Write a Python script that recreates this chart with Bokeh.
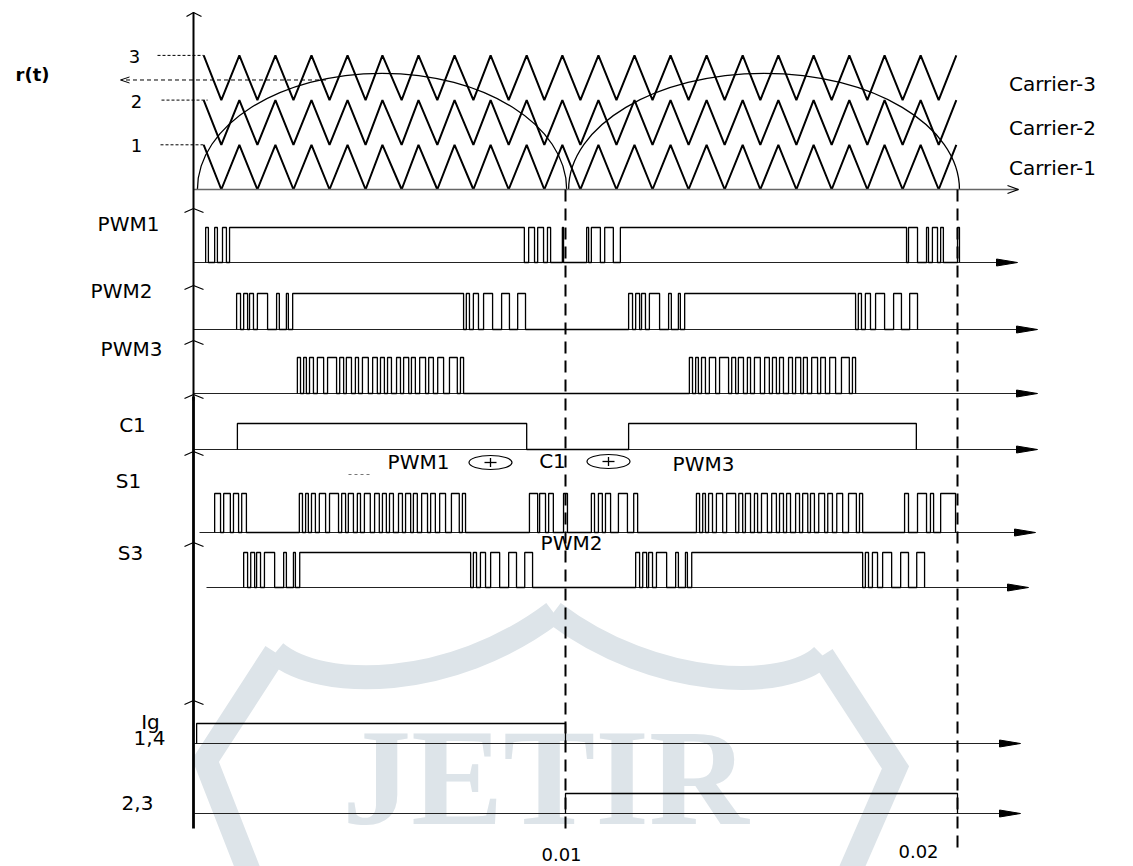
import numpy as np
from bokeh.plotting import figure
from bokeh.models import Range1d
from bokeh.embed import file_html
from bokeh.resources import INLINE
from bokeh.core.properties import value

# ---------------- signal data (time in ms) ----------------
carrier_labels = ["Carrier-1", "Carrier-2", "Carrier-3"]
carrier_levels = [1, 2, 3]
carrier_peaks_ms = [0.77, 1.68, 2.60, 3.52, 4.44, 5.33, 6.25, 7.17, 8.09, 9.01, 9.92,
                    10.84, 11.76, 12.68, 13.60, 14.52, 15.43, 16.33, 17.24, 18.14, 19.06, 19.97]
carrier_valleys_ms = [1.22, 2.14, 3.06, 3.98, 4.90, 5.82, 6.73, 7.65, 8.55, 9.46,
                      10.38, 11.30, 12.22, 13.14, 14.06, 14.97, 15.89, 16.79, 17.70, 18.60, 19.52]

# rectified reference r(t): two half waves
ref_start_ms = [0.61, 10.08]
ref_end_ms = [10.03, 20.05]
ref_peak_level = 2.6
readout_level = 2.45
readout_from_ms = 3.89

# switching instants (alternating rise / fall, starting from low)
pwm1_edges = [0.82, 0.89, 1.05, 1.12, 1.25, 1.35, 1.43,
              8.95, 9.06, 9.21, 9.29, 9.44, 9.54, 9.62, 9.92, 9.95,
              10.54, 10.59, 10.66, 10.89, 11.00, 11.22, 11.40,
              18.70, 18.75, 18.98, 19.21, 19.26, 19.36, 19.49, 19.57, 19.64, 20.00, 20.05]
pwm2_edges = [1.61, 1.71, 1.79, 1.89, 1.94, 2.04, 2.14, 2.40, 2.63, 2.70, 2.88, 2.93, 3.04,
              7.40, 7.47, 7.55, 7.65, 7.78, 7.91, 8.14, 8.37, 8.57, 8.78, 8.98,
              11.61, 11.71, 11.79, 11.89, 11.94, 12.04, 12.14, 12.40, 12.63, 12.70, 12.88, 12.93, 13.04,
              17.40, 17.47, 17.55, 17.65, 17.78, 17.91, 18.14, 18.37, 18.57, 18.78, 18.98]
pwm3_edges = [3.16, 3.24, 3.32, 3.39, 3.47, 3.57, 3.67, 3.83, 3.93, 4.16, 4.24, 4.34, 4.41, 4.54,
              4.64, 4.72, 4.82, 4.97, 5.08, 5.20, 5.28, 5.38, 5.46, 5.56, 5.69, 5.79, 5.87, 6.00,
              6.07, 6.17, 6.28, 6.43, 6.51, 6.63, 6.74, 6.89, 7.04, 7.24, 7.32, 7.40,
              13.16, 13.24, 13.32, 13.39, 13.47, 13.57, 13.67, 13.83, 13.93, 14.16, 14.24, 14.34, 14.41, 14.54,
              14.64, 14.72, 14.82, 14.97, 15.08, 15.20, 15.28, 15.38, 15.46, 15.56, 15.69, 15.79, 15.87, 16.00,
              16.07, 16.17, 16.28, 16.43, 16.51, 16.63, 16.74, 16.89, 17.04, 17.24, 17.32, 17.40]
c1_edges = [1.63, 9.01, 11.61, 18.95]
s1_edges = [1.05, 1.20, 1.28, 1.45, 1.53, 1.66, 1.74, 1.86,
            3.21, 3.29, 3.37, 3.44, 3.52, 3.62, 3.72, 3.88, 3.98, 4.21, 4.29, 4.39, 4.46, 4.59,
            4.69, 4.77, 4.87, 5.02, 5.13, 5.25, 5.33, 5.43, 5.51, 5.61, 5.74, 5.84, 5.92, 6.05,
            6.12, 6.22, 6.33, 6.48, 6.56, 6.68, 6.79, 6.94, 7.09, 7.29, 7.37, 7.45,
            9.08, 9.29, 9.34, 9.49, 9.57, 9.69, 9.95, 10.05,
            10.66, 10.74, 10.84, 10.94, 11.02, 11.15, 11.35, 11.58, 11.74, 11.84,
            13.34, 13.42, 13.50, 13.57, 13.65, 13.75, 13.85, 14.01, 14.11, 14.34, 14.42, 14.52, 14.59, 14.72,
            14.82, 14.90, 15.00, 15.15, 15.26, 15.38, 15.46, 15.56, 15.64, 15.74, 15.87, 15.97, 16.05, 16.18,
            16.25, 16.35, 16.46, 16.61, 16.69, 16.81, 16.92, 17.07, 17.22, 17.42, 17.50, 17.58,
            18.65, 18.75, 18.98, 19.21, 19.31, 19.39, 19.57, 19.95]
s3_edges = [1.79, 1.89, 1.97, 2.07, 2.12, 2.22, 2.32, 2.58, 2.81, 2.88, 3.06, 3.11, 3.22,
            7.58, 7.65, 7.73, 7.83, 7.96, 8.09, 8.32, 8.55, 8.75, 8.96, 9.16,
            11.79, 11.89, 11.97, 12.07, 12.12, 12.22, 12.32, 12.58, 12.81, 12.88, 13.06, 13.11, 13.22,
            17.58, 17.65, 17.73, 17.83, 17.96, 18.09, 18.32, 18.55, 18.75, 18.96, 19.16]
ig14_edges = [0.59, 10.0]
ig23_edges = [10.0, 20.0]

time_marks_ms = [10.0, 20.0]
time_mark_labels = ["0.01", "0.02"]

# ---------------- page geometry ----------------
W, H = 1133, 866
PX_PER_MS = 39.2
ORIGIN_PX = 173.0


def t_of(xpx):
    return (xpx - ORIGIN_PX) / PX_PER_MS


def dt(npx):
    return npx / PX_PER_MS


AXIS_X = t_of(193)
R_BASE, LEVEL_PX = 189.0, 44.7


def ry(level):
    return R_BASE - LEVEL_PX * level


FONT = value("DejaVu Sans")
INK = "black"
WM = "#dde4e9"

p = figure(width=W, height=H, x_range=Range1d(t_of(0), t_of(W)), y_range=Range1d(H, 0),
           x_axis_type=None, y_axis_type=None, toolbar_location=None,
           output_backend="svg", min_border=0, outline_line_color=None)
p.grid.visible = False
p.background_fill_color = "white"
p.border_fill_color = "white"

# ---------------- faint emblem in the background ----------------
p.multi_line(xs=[[t_of(275), t_of(205), t_of(248)], [t_of(822), t_of(895), t_of(850)]],
             ys=[[652, 760, 870], [655, 767, 870]], line_color=WM, line_width=24, line_join="miter")
p.bezier(x0=[t_of(275), t_of(822)], y0=[652, 655], x1=[t_of(553), t_of(553)], y1=[612, 612],
         cx0=[t_of(320), t_of(786)], cy0=[690, 690], cx1=[t_of(450), t_of(656)], cy1=[690, 690],
         line_color=WM, line_width=24)
p.text(x=[t_of(545)], y=[777], text=["JETIR"], text_font=value("Liberation Serif"),
       text_font_style="bold", text_font_size="138px", text_color=WM,
       text_align="center", text_baseline="middle")

# ---------------- r(t) panel ----------------
for lvl in carrier_levels:
    pts = sorted([(t, lvl) for t in carrier_peaks_ms] + [(t, lvl - 1) for t in carrier_valleys_ms])
    p.line([a for a, _ in pts], [ry(b) for _, b in pts], line_color=INK, line_width=2)

# reference half-waves (elliptic arcs drawn as cubic Beziers)
K = 0.5523
x0s, y0s, x1s, y1s, c0x, c0y, c1x, c1y = [], [], [], [], [], [], [], []
for a, b in zip(ref_start_ms, ref_end_ms):
    mid, half = (a + b) / 2, (b - a) / 2
    top, base = ry(ref_peak_level), ry(0)
    x0s += [a, mid]; y0s += [base, top]
    x1s += [mid, b]; y1s += [top, base]
    c0x += [a, mid + K * half]; c0y += [base - K * (base - top), top]
    c1x += [mid - K * half, b]; c1y += [top, base - K * (base - top)]
p.bezier(x0=x0s, y0=y0s, x1=x1s, y1=y1s, cx0=c0x, cy0=c0y, cx1=c1x, cy1=c1y,
         line_color=INK, line_width=1.3)

# r(t) axis line with open arrow
p.line([AXIS_X, t_of(1018)], [ry(0), ry(0)], line_color="#666666", line_width=1.5)
p.line([t_of(1007), t_of(1018), t_of(1007)], [ry(0) - 4, ry(0), ry(0) + 4], line_color=INK, line_width=1.2)

# level guides 1, 2, 3
guide_x0 = [t_of(160), t_of(161), t_of(157)]
for lvl, gx in zip(carrier_levels, guide_x0):
    p.line([gx, carrier_peaks_ms[0] + (0.1 if lvl == 2 else 0)], [ry(lvl), ry(lvl)],
           line_color=INK, line_width=1, line_dash="3 2")
p.text(x=[t_of(136), t_of(136), t_of(134)], y=[ry(l) + 1 for l in carrier_levels],
       text=[str(l) for l in carrier_levels], text_font=FONT, text_font_size="18px",
       text_align="center", text_baseline="middle", text_color=INK)

# r(t) read-out arrow
p.line([readout_from_ms, t_of(121)], [ry(readout_level)] * 2, line_color=INK, line_width=1, line_dash="4 3")
p.line([t_of(129), t_of(120), t_of(129)], [ry(readout_level) - 3, ry(readout_level), ry(readout_level) + 3],
       line_color=INK, line_width=1)
p.text(x=[t_of(32)], y=[ry(readout_level) - 5], text=["r(t)"], text_font=FONT, text_font_style="bold",
       text_font_size="18px", text_align="center", text_baseline="middle", text_color=INK)

# carrier names
p.text(x=[t_of(1052), t_of(1052), t_of(1052)], y=[167, 127, 83], text=carrier_labels,
       text_font=FONT, text_font_size="20px", text_align="center", text_baseline="middle", text_color=INK)

# ---------------- logic rows ----------------
# name, edges, baseline y, high y, caret y, label centre (px), arrow tip px, baseline start px
rows = [
    ("PWM1", pwm1_edges, 262, 227, 208, (128, 223), 1017, 193),
    ("PWM2", pwm2_edges, 329, 293, 285, (121, 290), 1037, 193),
    ("PWM3", pwm3_edges, 393, 357, 340, (131, 348), 1037, 193),
    ("C1", c1_edges, 449, 423, 394, (132, 424), 1037, 193),
    ("S1", s1_edges, 532, 493, 451, (128, 480), 1035, 199),
    ("S3", s3_edges, 587, 552, 542, (130, 552), 1028, 206),
    ("1,4", ig14_edges, 743, 723, 700, (149, 737), 1020, 194),
    ("2,3", ig23_edges, 813, 793, None, (137, 802), 1020, 194),
]


def step_xy(edges, base, high):
    xs, ys = [], []
    lvl = base
    for e in edges:
        xs += [e, e]
        nxt = high if lvl == base else base
        ys += [lvl, nxt]
        lvl = nxt
    return xs, ys


wave_xs, wave_ys, base_xs, base_ys = [], [], [], []
tri_xs, tri_ys, caret_xs, caret_ys = [], [], [], []
lab_x, lab_y, lab_t = [], [], []
for name, edges, base, high, caret, (lx, ly), tip, start in rows:
    xs, ys = step_xy(edges, base, high)
    wave_xs.append(xs); wave_ys.append(ys)
    base_xs.append([t_of(start), t_of(tip - 20)]); base_ys.append([base, base])
    tri_xs.append([t_of(tip), t_of(tip - 21), t_of(tip - 21)]); tri_ys.append([base, base - 3.5, base + 3.5])
    if caret is not None:
        caret_xs.append([t_of(184), AXIS_X, t_of(203)]); caret_ys.append([caret + 4, caret, caret + 4])
    lab_x.append(t_of(lx)); lab_y.append(ly); lab_t.append(name)

lab_x.append(t_of(150)); lab_y.append(721); lab_t.append("Ig")

p.multi_line(base_xs, base_ys, line_color="#222222", line_width=1.2)
p.multi_line(wave_xs, wave_ys, line_color=INK, line_width=1.3)
p.patches(tri_xs, tri_ys, fill_color=INK, line_color=INK, line_width=1)
p.multi_line(caret_xs, caret_ys, line_color=INK, line_width=1.2)
p.text(x=lab_x, y=lab_y, text=lab_t, text_font=FONT, text_font_size="20px",
       text_align="center", text_baseline="middle", text_color=INK)

# main vertical axis with open arrow (heavier in its lower part)
p.line([AXIS_X, AXIS_X], [400, 12], line_color=INK, line_width=2)
p.line([AXIS_X, AXIS_X], [828, 396], line_color=INK, line_width=2.8)
p.line([t_of(186), AXIS_X, t_of(201)], [16, 12, 16], line_color=INK, line_width=1.2)

# period markers
marker_bottom = [830, 848]
for tm, yb in zip(time_marks_ms, marker_bottom):
    p.line([tm, tm], [ry(0), yb], line_color=INK, line_width=2, line_dash="12 7")
p.text(x=[t_of(561), t_of(918)], y=[854, 851], text=time_mark_labels, text_font=FONT,
       text_font_size="18px", text_align="center", text_baseline="middle", text_color=INK)

# S1 logic expression and S3 source
p.text(x=[t_of(418), t_of(552), t_of(703), t_of(571)], y=[461, 460, 463, 542],
       text=["PWM1", "C1", "PWM3", "PWM2"], text_font=FONT, text_font_size="20px",
       text_align="center", text_baseline="middle", text_color=INK)
p.ellipse(x=[t_of(490), t_of(608)], y=[462, 461], width=dt(43), height=14,
          fill_color=None, line_color=INK, line_width=1.2)
p.multi_line([[t_of(484), t_of(496)], [t_of(490), t_of(490)], [t_of(602), t_of(614)], [t_of(608), t_of(608)]],
             [[462, 462], [457.5, 466.5], [461, 461], [456.5, 465.5]], line_color=INK, line_width=1.3)
p.line([t_of(348), t_of(372)], [474, 474], line_color="#777777", line_width=1, line_dash="3 3")

open("out.html", "w").write(file_html(p, INLINE))
